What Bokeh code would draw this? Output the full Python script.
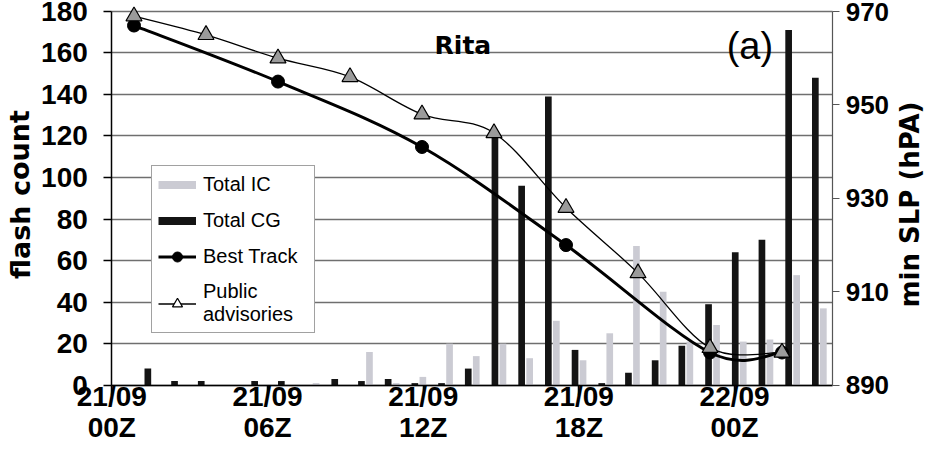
from bokeh.plotting import figure
from bokeh.models import (Range1d, LinearAxis, FixedTicker, ColumnDataSource,
                          Legend, LegendItem, Label)
from bokeh.transform import dodge
from bokeh.embed import file_html
from bokeh.resources import INLINE

# ---- data ----
# hourly flash-count slots starting 21/09 00Z
flash_slot = list(range(27))
total_ic = [0, 0, 0, 0, 0, 0, 0, 1, 0, 16, 1, 4, 20, 14, 20, 13, 31, 12, 25,
            67, 45, 21, 29, 21, 22, 53, 37]
total_cg = [0, 8, 2, 2, 0, 2, 2, 0, 3, 2, 3, 1, 1, 8, 120, 96, 139, 17, 1,
            6, 12, 19, 39, 64, 70, 171, 148]

# hours after 21/09 00Z, minimum sea-level pressure (hPa)
track_hours = [0, 6, 12, 18, 24, 27]
track_slp = [967, 955, 941, 920, 897, 897]
adv_hours = [0, 3, 6, 9, 12, 15, 18, 21, 24, 27]
adv_slp = [969, 965, 960, 956, 948, 944, 928, 914, 898, 897]

tick_hours = [0, 6, 12, 18, 24]
tick_labels = ["21/09\n00Z", "21/09\n06Z", "21/09\n12Z", "21/09\n18Z", "22/09\n00Z"]
count_ticks = list(range(0, 181, 20))
slp_ticks = list(range(890, 971, 20))

# ---- layout calibration (canvas pixels) ----
W, H = 932, 454
X0 = 111.3          # 21/09 00Z, left axis
PX_HOUR = 25.95     # tick axis: pixels per hour
PX_SLOT = 26.7      # bar slots: pixels per slot
TRK_X0, PX_TRK = 133.5, 24.0   # pressure curves: 00Z position, pixels per hour
Y0 = 384.7          # zero line / 890 hPa
PX_COUNT = 2.0767   # pixels per flash
PX_HPA = 4.671      # pixels per hPa
X_END = 27.78       # hours at right axis

IC_COLOR = "#cbcbd3"
CG_COLOR = "#141414"
TRI_FILL = "#9b9b9b"
NAN = [float("nan")]


def smooth_source(xs, ys):
    """Bezier control points (Catmull-Rom style, like a spreadsheet 'smoothed line')."""
    n = len(xs)
    d = {k: [] for k in ("x0", "y0", "x1", "y1", "cx0", "cy0", "cx1", "cy1")}
    for i in range(n - 1):
        a = max(i - 1, 0)
        b = min(i + 2, n - 1)
        d["x0"].append(xs[i]); d["y0"].append(ys[i])
        d["x1"].append(xs[i + 1]); d["y1"].append(ys[i + 1])
        d["cx0"].append(xs[i] + (xs[i + 1] - xs[a]) / 6.0)
        d["cy0"].append(ys[i] + (ys[i + 1] - ys[a]) / 6.0)
        d["cx1"].append(xs[i + 1] - (xs[b] - xs[i]) / 6.0)
        d["cy1"].append(ys[i + 1] - (ys[b] - ys[i]) / 6.0)
    return ColumnDataSource(d)


# the frame covers the whole canvas; axes sit at fixed locations inside it
p = figure(width=W, height=H, output_backend="svg", toolbar_location=None,
           title=None, min_border=0,
           x_range=Range1d(-X0 / PX_HOUR, (W - X0) / PX_HOUR),
           y_range=Range1d(-(H - Y0) / PX_COUNT, Y0 / PX_COUNT))
p.extra_x_ranges = {
    "slot": Range1d(-X0 / PX_SLOT - 0.5, (W - X0) / PX_SLOT - 0.5),
    "trk": Range1d(-TRK_X0 / PX_TRK, (W - TRK_X0) / PX_TRK),
}
p.extra_y_ranges = {"slp": Range1d(890 - (H - Y0) / PX_HPA, 890 + Y0 / PX_HPA)}
p.outline_line_color = None
p.background_fill_color = "white"
p.border_fill_color = "white"

# grid
p.xgrid.visible = False
p.ygrid.ticker = FixedTicker(ticks=count_ticks)
p.ygrid.grid_line_color = "#6f6f6f"
p.ygrid.grid_line_width = 1.3
try:
    p.ygrid.bounds = (0, 180)
    p.ygrid.cross_bounds = (0, X_END)
except Exception:
    p.ygrid.visible = False
    p.segment(x0=[0] * len(count_ticks), x1=[X_END] * len(count_ticks),
              y0=count_ticks, y1=count_ticks, line_color="#6f6f6f",
              line_width=1.3)

# bars
bsrc = ColumnDataSource(dict(slot=flash_slot, ic=total_ic, cg=total_cg))
p.vbar(x=dodge("slot", 0.15), top="ic", width=0.25, source=bsrc,
       x_range_name="slot", fill_color=IC_COLOR, line_color=None)
p.vbar(x=dodge("slot", -0.15), top="cg", width=0.25, source=bsrc,
       x_range_name="slot", fill_color=CG_COLOR, line_color=None)

# smoothed lines
p.bezier(x0="x0", y0="y0", x1="x1", y1="y1", cx0="cx0", cy0="cy0",
         cx1="cx1", cy1="cy1", source=smooth_source(adv_hours, adv_slp),
         x_range_name="trk", y_range_name="slp", line_color="black",
         line_width=1.3)
p.bezier(x0="x0", y0="y0", x1="x1", y1="y1", cx0="cx0", cy0="cy0",
         cx1="cx1", cy1="cy1", source=smooth_source(track_hours, track_slp),
         x_range_name="trk", y_range_name="slp", line_color="black",
         line_width=3, line_cap="round")
p.scatter(track_hours, track_slp, marker="circle", size=13,
          fill_color="black", line_color="black",
          x_range_name="trk", y_range_name="slp")
p.scatter(adv_hours, adv_slp, marker="triangle", size=16,
          fill_color=TRI_FILL, line_color="black", line_width=1.2,
          x_range_name="trk", y_range_name="slp")

# axes
xa = p.xaxis[0]
xa.fixed_location = 0
xa.bounds = (0, X_END)
xa.ticker = FixedTicker(ticks=tick_hours)
xa.major_label_overrides = dict(zip(tick_hours, tick_labels))
xa.major_tick_out = 10
xa.major_tick_in = 0
xa.minor_tick_line_color = None
xa.axis_line_color = "black"
xa.axis_line_width = 1.5
xa.major_tick_line_width = 1.5
xa.major_label_standoff = -14
xa.major_label_text_font = "Liberation Sans"
xa.major_label_text_font_style = "bold"
xa.major_label_text_font_size = "28px"
xa.major_label_text_line_height = 1.0
xa.major_label_text_color = "black"

ya = p.yaxis[0]
ya.fixed_location = 0
ya.bounds = (0, 180)
ya.ticker = FixedTicker(ticks=count_ticks)
ya.major_tick_out = 8
ya.major_tick_in = 0
ya.minor_tick_line_color = None
ya.axis_line_color = "black"
ya.axis_line_width = 1.5
ya.major_tick_line_width = 1.5
ya.major_label_standoff = 16
ya.major_label_text_font = "Liberation Sans"
ya.major_label_text_font_style = "bold"
ya.major_label_text_font_size = "28px"
ya.major_label_text_color = "black"

ra = LinearAxis(y_range_name="slp", ticker=FixedTicker(ticks=slp_ticks),
                fixed_location=X_END, bounds=(890, 970))
ra.major_tick_out = 7
ra.major_tick_in = 0
ra.minor_tick_line_color = None
ra.axis_line_color = "#555555"
ra.axis_line_width = 1.2
ra.major_tick_line_color = "#555555"
ra.major_label_standoff = 6
ra.major_label_text_font = "Liberation Sans"
ra.major_label_text_font_style = "bold"
ra.major_label_text_font_size = "26px"
ra.major_label_text_color = "black"
p.add_layout(ra, "right")

# axis titles and annotations (hours / flash-count coordinates)
p.add_layout(Label(x=(19.5 - X0) / PX_HOUR, y=91.8, text="flash count",
                   angle=1.5708, text_align="center", text_baseline="middle",
                   text_font="DejaVu Sans", text_font_style="bold",
                   text_font_size="27px", text_color="black"))
p.add_layout(Label(x=(909.5 - X0) / PX_HOUR, y=87.0, text="min SLP (hPA)",
                   angle=1.5708, text_align="center", text_baseline="middle",
                   text_font="DejaVu Sans", text_font_style="bold",
                   text_font_size="26px", text_color="black"))
p.add_layout(Label(x=13.53, y=163.6, text="Rita", text_align="center",
                   text_baseline="alphabetic", text_font="DejaVu Sans",
                   text_font_style="bold", text_font_size="25px",
                   text_color="black"))
p.add_layout(Label(x=24.59, y=163.1, text="(a)", text_align="center",
                   text_baseline="alphabetic", text_font="Liberation Sans",
                   text_font_size="38px", text_color="black"))

# legend (invisible single-NaN renderers give the legend swatches)
leg_ic = p.line(NAN, NAN, line_color=IC_COLOR, line_width=8)
leg_cg = p.line(NAN, NAN, line_color=CG_COLOR, line_width=8)
leg_bt_l = p.line(NAN, NAN, line_color="black", line_width=3)
leg_bt_m = p.scatter(NAN, NAN, marker="circle", fill_color="black", line_color="black")
leg_pa_l = p.line(NAN, NAN, line_color="black", line_width=1.3)
leg_pa_m = p.scatter(NAN, NAN, marker="triangle", fill_color="white",
                     line_color="black", line_width=1.2)
legend = Legend(items=[
    LegendItem(label="Total IC", renderers=[leg_ic]),
    LegendItem(label="Total CG", renderers=[leg_cg]),
    LegendItem(label="Best Track", renderers=[leg_bt_l, leg_bt_m]),
    LegendItem(label="Public\nadvisories", renderers=[leg_pa_l, leg_pa_m]),
], location=(151, 121))
legend.label_text_font = "Liberation Sans"
legend.label_text_font_size = "20px"
legend.label_text_color = "black"
legend.label_text_line_height = 1.1
legend.glyph_width = 38
legend.glyph_height = 25
legend.label_standoff = 7
legend.label_width = 105
legend.spacing = 11
legend.padding = 6
legend.margin = 0
legend.border_line_color = "#444444"
legend.border_line_width = 1.2
legend.background_fill_color = "white"
legend.background_fill_alpha = 1.0
p.add_layout(legend)

open("out.html", "w").write(file_html(p, INLINE))
